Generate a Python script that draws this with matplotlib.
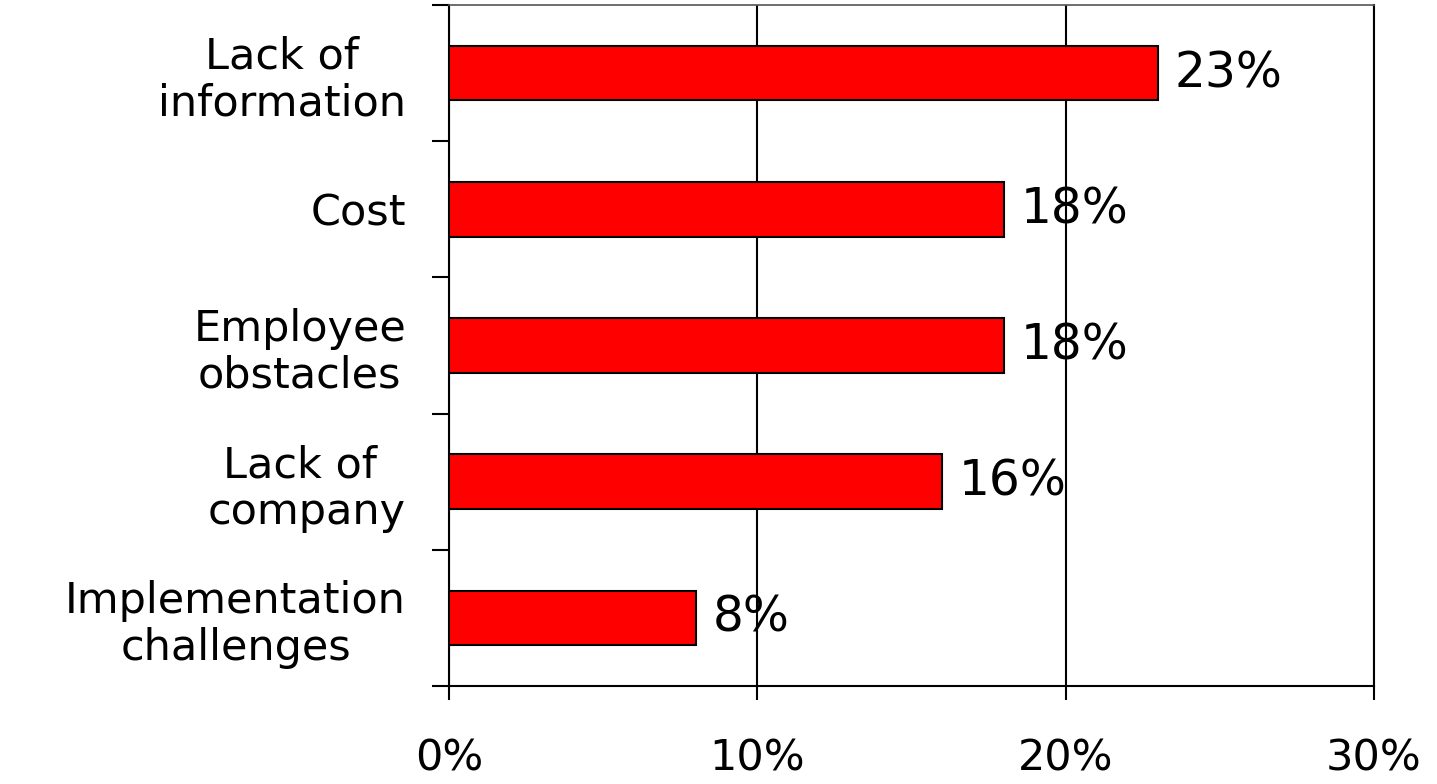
import matplotlib.pyplot as plt

# Survey data: barriers (top to bottom as shown)
categories = ['Lack of\ninformation', 'Cost', 'Employee\nobstacles',
              'Lack of \ncompany', 'Implementation\nchallenges']
values = [23, 18, 18, 16, 8]
xticks = [0, 10, 20, 30]
xtick_labels = ['0%', '10%', '20%', '30%']

plt.rcParams['font.family'] = ['DejaVu Sans']

fig = plt.figure(figsize=(14.37, 7.84), dpi=100)
ax = fig.add_axes([0.3125, 0.125, 0.9562 - 0.3125, 0.9936 - 0.125])

ypos = list(range(len(categories)))
bars = ax.barh(ypos, values, height=0.4, color='#ff0000', edgecolor='black',
               linewidth=1.5, zorder=3)

for y, v in zip(ypos, values):
    ax.annotate('{}%'.format(v), xy=(v, y), xytext=(12, 0),
                textcoords='offset points', va='center', ha='left',
                fontsize=35, zorder=4)

ax.set_xlim(0, 30)
ax.set_ylim(len(categories) - 0.5, -0.5)

ax.set_xticks(xticks)
ax.set_xticklabels(xtick_labels, fontsize=31)
ax.set_yticks([i - 0.5 for i in range(len(categories) + 1)])
ax.set_yticklabels([])
ax.set_yticks(ypos, minor=True)
ax.set_yticklabels(categories, minor=True, fontsize=31, ha='right',
                   multialignment='center', linespacing=1.15)

ax.tick_params(axis='y', which='major', length=12, width=1.5, direction='out')
ax.tick_params(axis='y', which='minor', length=0, pad=31)
ax.tick_params(axis='x', length=10, width=1.5, direction='out', pad=27)

ax.xaxis.grid(True, color='black', linewidth=1.5, zorder=1)
ax.set_axisbelow(True)

for side in ('left', 'bottom', 'right'):
    ax.spines[side].set_linewidth(1.5)
    ax.spines[side].set_color('black')
ax.spines['top'].set_color('#555555')
ax.spines['top'].set_linewidth(1.2)

fig.savefig('out.png', dpi=100)
